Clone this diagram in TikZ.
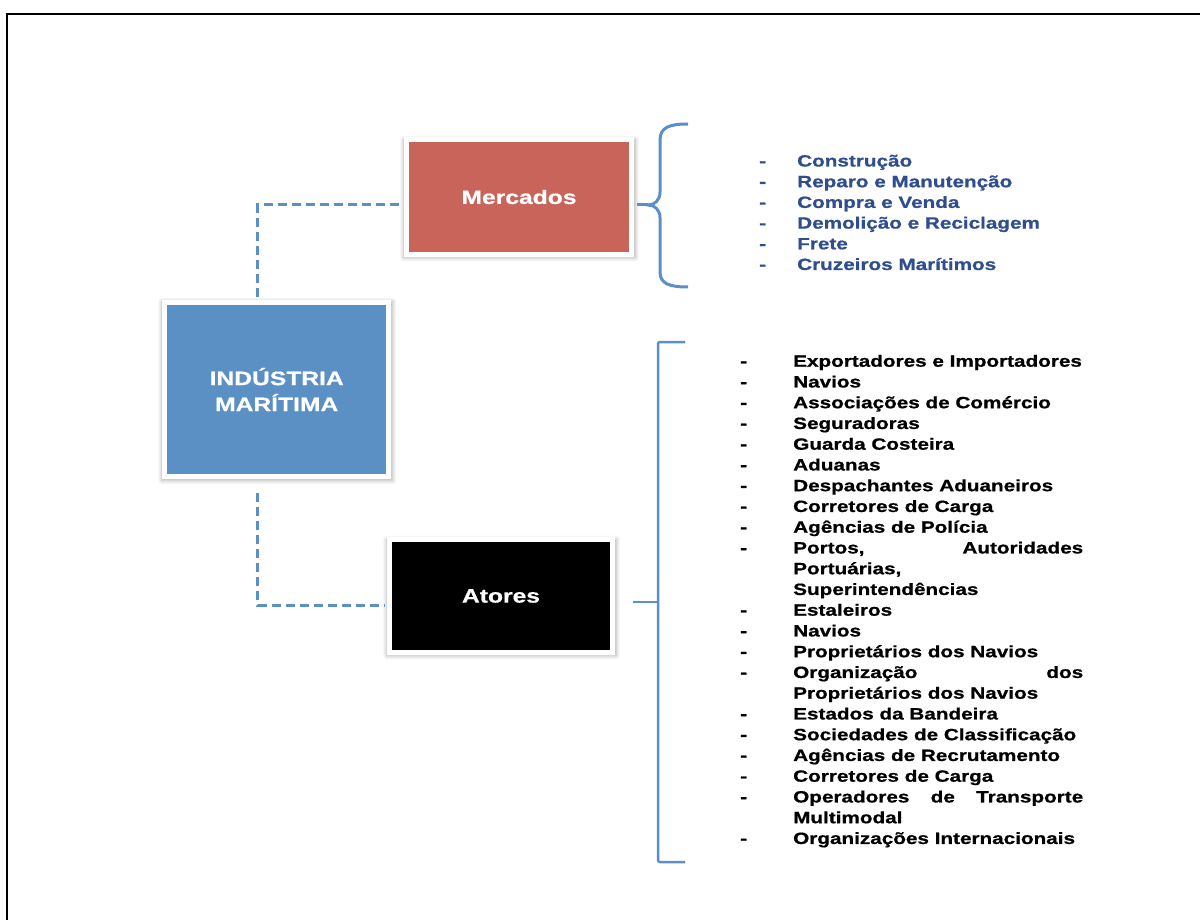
\documentclass[tikz,border=0pt]{standalone}
\usepackage{fontspec}
\newfontfamily\diagfont[FakeStretch=1.27,FakeBold=0.8]{Liberation Sans}
\newfontfamily\boxfont[FakeStretch=1.27,FakeBold=0.6]{Liberation Sans}
\usetikzlibrary{calc,shadows.blur}

\definecolor{mercred}{HTML}{C9645B}
\definecolor{indblue}{HTML}{5B90C5}
\definecolor{linkblue}{HTML}{5B8FCA}
\definecolor{listblue}{HTML}{2F4E8E}

% justified list lines
\newcommand\jportos{\hbox to 290pt{Portos,\hfill Autoridades}}
\newcommand\jportuarias{Portuárias,}
\newcommand\jorganizacao{\hbox to 290pt{Organização\hfill dos}}
\newcommand\joperadores{\hbox to 290pt{Operadores\hfill de\hfill Transporte}}

\tikzset{
  box/.style={draw=white, line width=5pt, inner sep=0pt, text=white, align=center,
    font=\boxfont\bfseries\fontsize{19.4}{26}\selectfont,
    blur shadow={shadow xshift=0.5pt, shadow yshift=-1.5pt, shadow scale=1.03,
      shadow blur radius=4pt, shadow blur steps=8, shadow opacity=30}},
  link/.style={draw=linkblue, line width=3pt, dash pattern=on 9pt off 5pt},
  brace/.style={draw=linkblue, line width=3pt},
  bracket/.style={draw=linkblue, line width=2.5pt},
  itemtxt/.style={anchor=base west, inner sep=0pt,
    font=\diagfont\bfseries\fontsize{16.3}{20.75}\selectfont},
}

\begin{document}
\begin{tikzpicture}[x=1pt, y=-1pt]
\useasboundingbox (0,0) rectangle (1200,920);

% page frame
\draw[line width=1.5pt] (7,920) -- (7,14) -- (1200,14);

% main boxes
\node[box, fill=mercred, minimum width=225pt, minimum height=115pt] (merc) at (519,197) {Mercados};
\node[box, fill=indblue, minimum width=224pt, minimum height=174pt] (ind) at (276.7,389.5) {INDÚSTRIA\\MARÍTIMA};
\node[box, fill=black, minimum width=223pt, minimum height=113pt] (act) at (501,596) {Atores};

% dashed connectors
\draw[link] ($(ind.north)+(-19,-3)$) |- ($(merc.west)+(-3,8)$);
\draw[link] ($(ind.south)+(-19,14)$) |- ($(act.west)+(-3,9)$);

% curly brace for the markets
\coordinate (mtip) at (648,205);
\draw[brace] ($(merc.east)+(3,8)$) -- (mtip);
\draw[brace] (688,124) .. controls (670,124) and (660,127) .. (660,140) -- (660,192)
  .. controls (660,200) and (655,205) .. (mtip)
  .. controls (655,205) and (660,210) .. (660,218) -- (660,272)
  .. controls (660,284) and (670,287) .. (688,287);

% square bracket for the actors
\coordinate (atip) at (658,602);
\draw[bracket] ($(act.east)+(18,6)$) -- (atip);
\draw[bracket, rounded corners=2pt] (685,342) -- (658,342) -- (658,862) -- (685,862);

% market list
\foreach \t [count=\i from 0] in {Construção, Reparo e Manutenção, Compra e Venda,
    Demolição e Reciclagem, Frete, Cruzeiros Marítimos} {
  \node[itemtxt, text=listblue] (mdash\i) at (759,166.5+20.7*\i) {-};
  \node[itemtxt, text=listblue] (mitem\i) at (797,166.5+20.7*\i) {\t};
}

% actors list
\foreach \t/\d [count=\i from 0] in {
    Exportadores e Importadores/1, Navios/1, Associações de Comércio/1,
    Seguradoras/1, Guarda Costeira/1, Aduanas/1, Despachantes Aduaneiros/1,
    Corretores de Carga/1, Agências de Polícia/1, \jportos/1, \jportuarias/0,
    Superintendências/0, Estaleiros/1, Navios/1, Proprietários dos Navios/1,
    \jorganizacao/1, Proprietários dos Navios/0, Estados da Bandeira/1,
    Sociedades de Classificação/1, Agências de Recrutamento/1,
    Corretores de Carga/1, \joperadores/1, Multimodal/0,
    Organizações Internacionais/1} {
  \node[itemtxt] (aitem\i) at (793,366.7+20.75*\i) {\t};
  \ifnum\d=1 \node[itemtxt] (adash\i) at (740,366.7+20.75*\i) {-};\fi
}
\end{tikzpicture}
\end{document}
